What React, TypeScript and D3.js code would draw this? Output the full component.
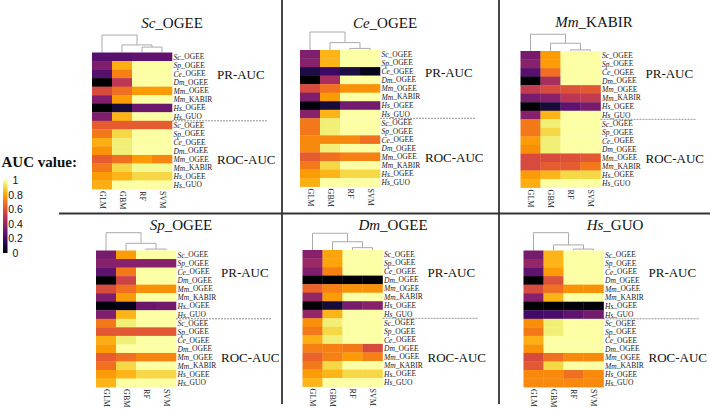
import React from "react";
import * as d3 from "d3";

// ---------- data ----------
const models = ["GLM", "GBM", "RF", "SVM"];
const rowSpecies = ["Sc", "Sp", "Ce", "Dm", "Mm", "Mm", "Hs", "Hs"];
const rowSources = ["OGEE", "OGEE", "OGEE", "OGEE", "OGEE", "KABIR", "OGEE", "GUO"];
const panelSpecies = ["Sc", "Ce", "Mm", "Sp", "Dm", "Hs"];
const panelSources = ["OGEE", "OGEE", "KABIR", "OGEE", "OGEE", "GUO"];
const legendTicks = [0, 0.2, 0.4, 0.6, 0.8, 1];

const scOgeePR = [
  [0.25, 0.25, 0.27, 0.27], [0.35, 0.82, 1, 1], [0.25, 0.72, 1, 1], [0.0, 0.5, 1, 1],
  [0.58, 0.68, 0.78, 0.78], [0.35, 0.78, 1, 1], [0.0, 0.1, 0.3, 0.3], [0.35, 0.83, 1, 1],
];
const scOgeeROC = [
  [0.63, 0.63, 0.63, 0.63], [0.7, 0.9, 1, 1], [0.82, 0.95, 1, 1], [0.76, 0.95, 1, 1],
  [0.63, 0.68, 0.78, 0.73], [0.7, 0.9, 0.98, 0.98], [0.78, 0.83, 0.9, 0.9], [0.82, 1, 1, 1],
];
const ceOgeePR = [
  [0.35, 0.83, 1, 1], [0.37, 0.83, 1, 1], [0.12, 0.18, 0.12, 0.05], [0.0, 0.45, 1, 1],
  [0.58, 0.68, 0.76, 0.76], [0.35, 0.78, 1, 1], [0.02, 0.1, 0.32, 0.32], [0.37, 0.83, 1, 1],
];
const ceOgeeROC = [
  [0.7, 0.95, 1, 1], [0.7, 0.95, 1, 1], [0.74, 0.74, 0.74, 0.68], [0.74, 0.95, 1, 1],
  [0.63, 0.68, 0.72, 0.72], [0.7, 0.9, 1, 1], [0.78, 0.83, 0.9, 0.9], [0.82, 1, 1, 1],
];
const mmKabirPR = [
  [0.33, 0.78, 1, 1], [0.37, 0.78, 1, 1], [0.25, 0.68, 1, 1], [0.0, 0.45, 1, 1],
  [0.52, 0.58, 0.6, 0.62], [0.33, 0.37, 0.5, 0.52], [0.0, 0.1, 0.27, 0.33], [0.37, 0.83, 1, 1],
];
const mmKabirROC = [
  [0.7, 0.95, 1, 1], [0.7, 0.9, 1, 1], [0.78, 0.95, 1, 1], [0.75, 0.95, 1, 1],
  [0.58, 0.58, 0.6, 0.62], [0.58, 0.63, 0.63, 0.7], [0.78, 0.83, 0.9, 0.9], [0.82, 1, 1, 1],
];
const spOgeePR = [
  [0.33, 0.78, 1, 1], [0.37, 0.37, 0.37, 0.37], [0.27, 0.7, 1, 1], [0.0, 0.55, 1, 1],
  [0.58, 0.68, 0.76, 0.76], [0.35, 0.78, 1, 1], [0.02, 0.05, 0.3, 0.32], [0.35, 0.83, 1, 1],
];
const spOgeeROC = [
  [0.7, 0.95, 1, 1], [0.62, 0.62, 0.62, 0.62], [0.82, 0.95, 1, 1], [0.78, 1, 1, 1],
  [0.63, 0.68, 0.73, 0.73], [0.68, 0.9, 1, 1], [0.78, 0.83, 0.9, 0.9], [0.83, 1, 1, 1],
];
const dmOgeePR = [
  [0.37, 0.8, 1, 1], [0.42, 0.8, 1, 1], [0.35, 0.72, 1, 1], [0.0, 0.0, 0.0, 0.0],
  [0.65, 0.72, 0.76, 0.76], [0.4, 0.78, 1, 1], [0.0, 0.1, 0.33, 0.37], [0.4, 0.83, 1, 1],
];
const dmOgeeROC = [
  [0.75, 0.95, 1, 1], [0.7, 0.9, 1, 1], [0.82, 0.95, 1, 1], [0.72, 0.72, 0.7, 0.58],
  [0.65, 0.72, 0.78, 0.72], [0.7, 0.9, 1, 1], [0.78, 0.83, 0.9, 0.9], [0.83, 1, 1, 1],
];
const hsGuoPR = [
  [0.33, 0.83, 1, 1], [0.4, 0.83, 1, 1], [0.27, 0.78, 1, 1], [0.0, 0.6, 1, 1],
  [0.58, 0.68, 0.76, 0.76], [0.37, 0.83, 1, 1], [0.0, 0.0, 0.02, 0.02], [0.2, 0.22, 0.27, 0.32],
];
const hsGuoROC = [
  [0.75, 0.95, 1, 1], [0.7, 0.95, 1, 1], [0.82, 1, 1, 1], [0.76, 1, 1, 1],
  [0.58, 0.68, 0.74, 0.74], [0.62, 0.9, 1, 1], [0.74, 0.74, 0.68, 0.74], [0.74, 0.74, 0.74, 0.74],
];
// dendrogram merge heights: [root (GLM | rest), GBM | (RF,SVM), RF | SVM]
const scDendro = [0.97, 0.42, 0.3];
const ceDendro = [1.0, 0.41, 0.09];
const mmDendro = [0.93, 0.43, 0.06];
const spDendro = [0.99, 0.4, 0.08];
const dmDendro = [0.93, 0.46, 0.13];
const hsDendro = [0.99, 0.31, 0.08];

const panelPR = [scOgeePR, ceOgeePR, mmKabirPR, spOgeePR, dmOgeePR, hsGuoPR];
const panelROC = [scOgeeROC, ceOgeeROC, mmKabirROC, spOgeeROC, dmOgeeROC, hsGuoROC];
const panelDendro = [scDendro, ceDendro, mmDendro, spDendro, dmDendro, hsDendro];

// ---------- layout ----------
const W = 710, H = 411;
const HM_W = 80, HM_H = 136.6, DENDRO_H = 18;
const layout = [
  { hx: 92, hy: 52.5, tx: 172, ty: 28 },
  { hx: 300, hy: 50, tx: 385, ty: 28 },
  { hx: 520.5, hy: 51, tx: 594, ty: 27 },
  { hx: 96, hy: 250.5, tx: 181, ty: 230 },
  { hx: 302.5, hy: 250, tx: 393, ty: 230 },
  { hx: 523.5, hy: 250.5, tx: 615, ty: 230 },
];
const SERIF = '"Liberation Serif", "Times New Roman", Times, "DejaVu Serif", serif';
const SANS = '"Liberation Sans", Arial, Helvetica, sans-serif';
const serif = { fontFamily: SERIF };
const sans = { fontFamily: SANS };

const color = (v: number) => d3.interpolateInferno(v);

function Panel({ idx }: { idx: number }) {
  const { hx, hy, tx, ty } = layout[idx];
  const allSpecies = [...rowSpecies, ...rowSpecies];
  const allSources = [...rowSources, ...rowSources];
  const rows = allSpecies.map((s, i) => `${s}_${allSources[i]}_${i}`);
  const x = d3.scaleBand<string>().domain(models).range([hx, hx + HM_W]);
  const y = d3.scaleBand<string>().domain(rows).range([hy, hy + HM_H]);
  const dh = d3.scaleLinear().domain([0, 1]).range([hy, hy - DENDRO_H]);
  const values = [...panelPR[idx], ...panelROC[idx]];
  const [hRoot, hInner, hPair] = panelDendro[idx];
  const cx = (m: string) => (x(m) as number) + x.bandwidth() / 2;
  const xPair = (cx("RF") + cx("SVM")) / 2;
  const xInner = (cx("GBM") + xPair) / 2;
  const xGLM = cx("GLM");
  const dStroke = "#aaaaaa";
  const dendroPath = [
    `M${cx("RF")},${hy}V${dh(hPair)}H${cx("SVM")}V${hy}`,
    `M${cx("GBM")},${hy}V${dh(hInner)}H${xPair}V${dh(hPair)}`,
    `M${xGLM},${hy}V${dh(hRoot)}H${xInner}V${dh(hInner)}`,
  ];
  const labelX = hx + HM_W + 1.5;
  const midY = hy + HM_H / 2;
  return (
    <g>
      <text x={tx} y={ty} textAnchor="middle" style={serif} fontSize={15} fill="#111">
        <tspan fontStyle="italic">{panelSpecies[idx]}</tspan>_{panelSources[idx]}
      </text>
      {dendroPath.map((d, i) => (
        <path key={i} d={d} fill="none" stroke={dStroke} strokeWidth={1} />
      ))}
      {values.map((row, r) =>
        row.map((v, c) => (
          <rect
            key={`${r}-${c}`}
            x={x(models[c])}
            y={y(rows[r])}
            width={x.bandwidth() + 0.3}
            height={y.bandwidth() + 0.3}
            fill={color(v)}
          />
        ))
      )}
      {rows.map((r, i) => (
        <text
          key={r}
          x={labelX}
          y={(y(r) as number) + y.bandwidth() / 2}
          dominantBaseline="central"
          style={serif}
          fontSize={7.5}
          fill="#222"
        >
          <tspan fontStyle="italic">{allSpecies[i]}</tspan>_{allSources[i]}
        </text>
      ))}
      <line
        x1={hx + HM_W}
        x2={Math.min(hx + HM_W + 96, W)}
        y1={midY}
        y2={midY}
        stroke="#777"
        strokeWidth={0.8}
        strokeDasharray="2,1"
      />
      <text x={hx + 125} y={hy + 26.5} style={serif} fontSize={13} fill="#111">PR-AUC</text>
      <text x={hx + 125} y={hy + 111.5} style={serif} fontSize={13} fill="#111">ROC-AUC</text>
      {models.map((m) => (
        <text
          key={m}
          transform={`translate(${cx(m)},${hy + HM_H + 2}) rotate(90)`}
          dominantBaseline="central"
          style={serif}
          fontSize={8}
          fill="#222"
        >
          {m}
        </text>
      ))}
    </g>
  );
}

function Legend() {
  const ly = d3.scaleLinear().domain([0, 1]).range([253, 180]);
  const stops = d3.range(0, 1.0001, 0.05);
  return (
    <g>
      <defs>
        <linearGradient id="aucGrad" x1="0" y1="1" x2="0" y2="0">
          {stops.map((s) => (
            <stop key={s} offset={`${s * 100}%`} stopColor={color(s)} />
          ))}
        </linearGradient>
      </defs>
      <text x={1.5} y={167} style={serif} fontWeight="bold" fontSize={15} fill="#111">AUC value:</text>
      <rect x={3} y={ly(1)} width={4.5} height={ly(0) - ly(1)} fill="url(#aucGrad)" />
      {legendTicks.map((t) => (
        <text
          key={t}
          x={15.5}
          y={ly(t)}
          textAnchor="middle"
          dominantBaseline="central"
          style={sans}
          fontSize={10.5}
          fill="#111"
        >
          {String(t)}
        </text>
      ))}
    </g>
  );
}

export default function App() {
  return (
    <svg
      width={W}
      height={H}
      viewBox={`0 0 ${W} ${H}`}
      style={{ position: "absolute", left: 0, top: 0, background: "#fff" }}
    >
      <rect width={W} height={H} fill="#fff" />
      {layout.map((_, i) => (
        <Panel key={i} idx={i} />
      ))}
      <Legend />
      <line x1={59} x2={W} y1={213.5} y2={213.5} stroke="#333" strokeWidth={1.8} />
      <line x1={282} x2={282} y1={0} y2={404} stroke="#333" strokeWidth={1.8} />
      <line x1={499} x2={499} y1={0} y2={404} stroke="#333" strokeWidth={1.8} />
    </svg>
  );
}
